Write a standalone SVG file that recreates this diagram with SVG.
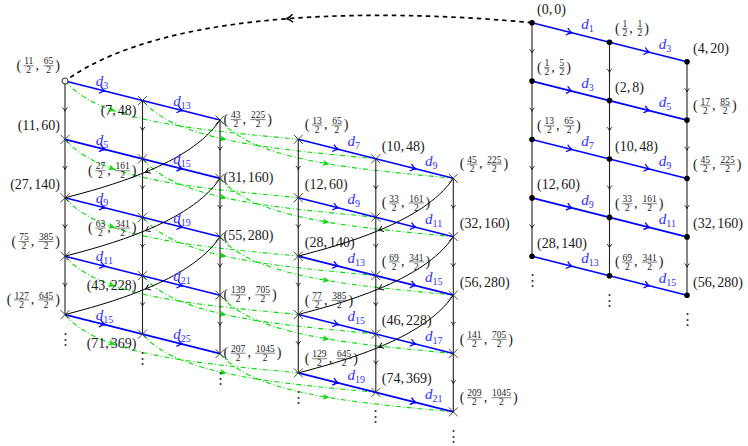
<svg xmlns="http://www.w3.org/2000/svg" width="748" height="446" viewBox="0 0 748 446">
<style>
.vl{fill:none;stroke:#222;stroke-width:1.1;marker-mid:url(#mv)}
.bl{fill:none;stroke:#0000ff;stroke-width:1.6;marker-mid:url(#mb)}
.gc{fill:none;stroke:#00e000;stroke-width:1.1;stroke-dasharray:5 2.5 1 2.5;marker-mid:url(#mg)}
.kc{fill:none;stroke:#000;stroke-width:1;marker-mid:url(#mk)}
.arc{fill:none;stroke:#000;stroke-width:1.7;stroke-dasharray:4.5 4;marker-mid:url(#ma)}
.lb{font-family:"Liberation Serif","DejaVu Serif",serif;font-size:14px;fill:#1a1a1a}
.e{text-anchor:end}
.fr{font-family:"Liberation Serif","DejaVu Serif",serif;font-size:9.5px;fill:#1a1a1a;text-anchor:middle}
.fb{stroke:#1a1a1a;stroke-width:0.55;fill:none}
.dl{font-family:"Liberation Serif","DejaVu Serif",serif;font-style:italic;font-size:15px;fill:#3030ff}
.sb{font-style:normal;font-size:10px}
.vd{font-family:"DejaVu Serif",serif;font-size:15px;fill:#333;text-anchor:middle}
</style>
<defs>
<marker id="mb" markerUnits="userSpaceOnUse" orient="auto" overflow="visible" markerWidth="10" markerHeight="10"><path d="M-4,-3.6Q-1,-0.6 1.5,0Q-1,0.6 -4,3.6" fill="none" stroke="#0000ff" stroke-width="1.3" stroke-dasharray="none"/></marker>
<marker id="mv" markerUnits="userSpaceOnUse" orient="auto" overflow="visible" markerWidth="10" markerHeight="10"><path d="M-2.6,-2.4Q-0.6,-0.4 1,0Q-0.6,0.4 -2.6,2.4" fill="none" stroke="#111" stroke-width="0.9" stroke-dasharray="none"/></marker>
<marker id="mk" markerUnits="userSpaceOnUse" orient="auto" overflow="visible" markerWidth="10" markerHeight="10"><path d="M-3.6,-3Q-0.9,-0.5 1.2,0Q-0.9,0.5 -3.6,3" fill="none" stroke="#000" stroke-width="1" stroke-dasharray="none"/></marker>
<marker id="mg" markerUnits="userSpaceOnUse" orient="auto" overflow="visible" markerWidth="10" markerHeight="10"><path d="M-4.5,-3L2,0L-4.5,3L-3,0Z" fill="#00e000" stroke="none"/></marker>
<marker id="ma" markerUnits="userSpaceOnUse" orient="auto" overflow="visible" markerWidth="10" markerHeight="10"><path d="M-4.5,-4Q-1.2,-0.8 2,0Q-1.2,0.8 -4.5,4" fill="none" stroke="#000" stroke-width="1.4" stroke-dasharray="none"/></marker>
<circle id="dot" r="2.8" fill="#000"/>
<path id="xm" d="M-4.5,-4.5L4.5,4.5M-4.5,4.5L4.5,-4.5" stroke="#333" stroke-width="0.9" fill="none"/>
<g id="vc"><path d="M0,0L0,29.2L0,58.4"/><path d="M0,58.4L0,87.6L0,116.8"/><path d="M0,116.8L0,146L0,175.2"/><path d="M0,175.2L0,204.4L0,233.6"/></g>
<g id="br"><path d="M0,0L38.75,9.75L77.5,19.5"/><path d="M77.5,19.5L116.25,29.25L155,39"/></g>
<path id="g0" d="M0,0C10.5,12.6 27.24,22.05 48.06,29.36C96.65,46.41 167.5,51.79 233.3,58.3"/>
<path id="g1" d="M0,0C15.75,18.9 45.53,30.71 82.1,38.84C126.78,48.77 181.6,53.19 233.3,58.3"/>
<path id="g2" d="M0,0C19.25,23.1 59.46,35.61 107.4,43.74C146.61,50.4 191,54.12 233.3,58.3"/>
<path id="kcv" d="M155,-77.8C140,-55.3 111.25,-38.48 81.25,-25.96C51.25,-13.45 20,-5.25 0,0"/>
</defs>
<rect width="748" height="446" fill="#fff"/>
<g id="connectors">
<path class="arc" d="M532,22.7C466,16.5 375.5,12 288.4,18.6C201.25,25.25 117.5,43 65,81"/>
<g id="conn-left" transform="translate(65,81)">
<g class="gc">
<use href="#g0"/><use href="#g0" y="58.4"/><use href="#g0" y="116.8"/><use href="#g0" y="175.2"/><use href="#g0" y="233.6"/>
<use href="#g1" x="77.5" y="19.5"/><use href="#g1" x="77.5" y="77.9"/><use href="#g1" x="77.5" y="136.3"/><use href="#g1" x="77.5" y="194.7"/><use href="#g1" x="77.5" y="253.1"/>
<use href="#g2" x="155" y="39"/><use href="#g2" x="155" y="97.4"/><use href="#g2" x="155" y="155.8"/><use href="#g2" x="155" y="214.2"/><use href="#g2" x="155" y="272.6"/>
</g>
<g class="vl"><use href="#vc"/><use href="#vc" x="77.5" y="19.5"/><use href="#vc" x="155" y="39"/></g>
<g class="bl"><use href="#br"/><use href="#br" y="58.4"/><use href="#br" y="116.8"/><use href="#br" y="175.2"/><use href="#br" y="233.6"/></g>
<g class="kc"><use href="#kcv" y="116.8"/><use href="#kcv" y="175.2"/><use href="#kcv" y="233.6"/></g>
<g class="dl">
<text x="30.75" y="5.25">d<tspan class="sb" dy="3">3</tspan></text><text x="108.25" y="24.75">d<tspan class="sb" dy="3">13</tspan></text>
<text x="30.75" y="63.65">d<tspan class="sb" dy="3">5</tspan></text><text x="108.25" y="83.15">d<tspan class="sb" dy="3">15</tspan></text>
<text x="30.75" y="122.05">d<tspan class="sb" dy="3">9</tspan></text><text x="108.25" y="141.55">d<tspan class="sb" dy="3">19</tspan></text>
<text x="30.75" y="180.45">d<tspan class="sb" dy="3">11</tspan></text><text x="108.25" y="199.95">d<tspan class="sb" dy="3">21</tspan></text>
<text x="30.75" y="238.85">d<tspan class="sb" dy="3">15</tspan></text><text x="108.25" y="258.35">d<tspan class="sb" dy="3">25</tspan></text>
</g>
</g>
<g id="conn-middle" transform="translate(298.3,139.3)">
<g class="vl"><use href="#vc"/><use href="#vc" x="77.5" y="19.5"/><use href="#vc" x="155" y="39"/></g>
<g class="bl"><use href="#br"/><use href="#br" y="58.4"/><use href="#br" y="116.8"/><use href="#br" y="175.2"/><use href="#br" y="233.6"/></g>
<g class="kc"><use href="#kcv" y="116.8"/><use href="#kcv" y="175.2"/><use href="#kcv" y="233.6"/></g>
<g class="dl">
<text x="49.25" y="6.75">d<tspan class="sb" dy="3">7</tspan></text><text x="126.75" y="26.25">d<tspan class="sb" dy="3">9</tspan></text>
<text x="49.25" y="65.15">d<tspan class="sb" dy="3">9</tspan></text><text x="126.75" y="84.65">d<tspan class="sb" dy="3">11</tspan></text>
<text x="49.25" y="123.55">d<tspan class="sb" dy="3">13</tspan></text><text x="126.75" y="143.05">d<tspan class="sb" dy="3">15</tspan></text>
<text x="49.25" y="181.95">d<tspan class="sb" dy="3">15</tspan></text><text x="126.75" y="201.45">d<tspan class="sb" dy="3">17</tspan></text>
<text x="49.25" y="240.35">d<tspan class="sb" dy="3">19</tspan></text><text x="126.75" y="259.85">d<tspan class="sb" dy="3">21</tspan></text>
</g>
</g>
<g id="conn-right" transform="translate(532,22.7)">
<g class="vl"><use href="#vc"/><use href="#vc" x="77.5" y="19.5"/><use href="#vc" x="155" y="39"/></g>
<g class="bl"><use href="#br"/><use href="#br" y="58.4"/><use href="#br" y="116.8"/><use href="#br" y="175.2"/><use href="#br" y="233.6"/></g>
<g class="dl">
<text x="49.25" y="6.75">d<tspan class="sb" dy="3">1</tspan></text><text x="126.75" y="26.25">d<tspan class="sb" dy="3">3</tspan></text>
<text x="49.25" y="65.15">d<tspan class="sb" dy="3">3</tspan></text><text x="126.75" y="84.65">d<tspan class="sb" dy="3">5</tspan></text>
<text x="49.25" y="123.55">d<tspan class="sb" dy="3">7</tspan></text><text x="126.75" y="143.05">d<tspan class="sb" dy="3">9</tspan></text>
<text x="49.25" y="181.95">d<tspan class="sb" dy="3">9</tspan></text><text x="126.75" y="201.45">d<tspan class="sb" dy="3">11</tspan></text>
<text x="49.25" y="240.35">d<tspan class="sb" dy="3">13</tspan></text><text x="126.75" y="259.85">d<tspan class="sb" dy="3">15</tspan></text>
</g>
</g>
</g>
<g id="vdots">
<g transform="translate(65,81)"><text class="vd" x="0" y="262.6">⋮</text><text class="vd" x="77.5" y="282.1">⋮</text><text class="vd" x="155" y="301.6">⋮</text></g>
<g transform="translate(298.3,139.3)"><text class="vd" x="0" y="262.6">⋮</text><text class="vd" x="77.5" y="282.1">⋮</text><text class="vd" x="155" y="301.6">⋮</text></g>
<g transform="translate(532,22.7)"><text class="vd" x="0" y="262.6">⋮</text><text class="vd" x="77.5" y="282.1">⋮</text><text class="vd" x="155" y="301.6">⋮</text></g>
</g>
<g id="nodes-left" transform="translate(65,81)">
<g id="L00"><circle r="3" fill="#fff" stroke="#000" stroke-width="0.8"/><text class="lb" y="-11"><tspan x="-48.6">(</tspan><tspan x="-29.5">,</tspan><tspan x="-9.7">)</tspan></text><text class="fr"><tspan x="-36.3" y="-16.6">11</tspan><tspan x="-36.3" y="-7.6">2</tspan><tspan x="-16.5" y="-16.6">65</tspan><tspan x="-16.5" y="-7.6">2</tspan></text><path class="fb" d="M-41.5,-15.2h10.4M-21.7,-15.2h10.4"/></g>
<g id="L01" transform="translate(0,58.4)"><use href="#xm"/><text class="lb e" x="-5" y="-9.5">(11,<tspan dx="2">60)</tspan></text></g>
<g id="L02" transform="translate(0,116.8)"><use href="#xm"/><text class="lb e" x="-5" y="-8.5">(27,<tspan dx="2">140)</tspan></text></g>
<g id="L03" transform="translate(0,175.2)"><use href="#xm"/><text class="lb" y="-10.5"><tspan x="-53.4">(</tspan><tspan x="-34.3">,</tspan><tspan x="-9.7">)</tspan></text><text class="fr"><tspan x="-41.1" y="-16.1">75</tspan><tspan x="-41.1" y="-7.1">2</tspan><tspan x="-18.9" y="-16.1">385</tspan><tspan x="-18.9" y="-7.1">2</tspan></text><path class="fb" d="M-46.3,-14.7h10.4M-26.5,-14.7h15.2"/></g>
<g id="L04" transform="translate(0,233.6)"><use href="#xm"/><text class="lb" y="-10.5"><tspan x="-58.2">(</tspan><tspan x="-34.3">,</tspan><tspan x="-9.7">)</tspan></text><text class="fr"><tspan x="-43.5" y="-16.1">127</tspan><tspan x="-43.5" y="-7.1">2</tspan><tspan x="-18.9" y="-16.1">645</tspan><tspan x="-18.9" y="-7.1">2</tspan></text><path class="fb" d="M-51.1,-14.7h15.2M-26.5,-14.7h15.2"/></g>
<g id="L10" transform="translate(77.5,19.5)"><use href="#xm"/><text class="lb e" x="-6" y="14.7">(7,<tspan dx="2">48)</tspan></text></g>
<g id="L11" transform="translate(77.5,77.9)"><use href="#xm"/><text class="lb" y="16"><tspan x="-54.4">(</tspan><tspan x="-35.3">,</tspan><tspan x="-10.7">)</tspan></text><text class="fr"><tspan x="-42.1" y="10.4">27</tspan><tspan x="-42.1" y="19.4">2</tspan><tspan x="-19.9" y="10.4">161</tspan><tspan x="-19.9" y="19.4">2</tspan></text><path class="fb" d="M-47.3,11.8h10.4M-27.5,11.8h15.2"/></g>
<g id="L12" transform="translate(77.5,136.3)"><use href="#xm"/><text class="lb" y="15"><tspan x="-54.4">(</tspan><tspan x="-35.3">,</tspan><tspan x="-10.7">)</tspan></text><text class="fr"><tspan x="-42.1" y="9.4">63</tspan><tspan x="-42.1" y="18.4">2</tspan><tspan x="-19.9" y="9.4">341</tspan><tspan x="-19.9" y="18.4">2</tspan></text><path class="fb" d="M-47.3,10.8h10.4M-27.5,10.8h15.2"/></g>
<g id="L13" transform="translate(77.5,194.7)"><use href="#xm"/><text class="lb e" x="-6" y="14.3">(43,<tspan dx="2">228)</tspan></text></g>
<g id="L14" transform="translate(77.5,253.1)"><use href="#xm"/><text class="lb e" x="-6" y="14.4">(71,<tspan dx="2">369)</tspan></text></g>
<g id="L20" transform="translate(155,39)"><use href="#xm"/><text class="lb" y="3.8"><tspan x="3.5">(</tspan><tspan x="22.6">,</tspan><tspan x="47.2">)</tspan></text><text class="fr"><tspan x="15.8" y="-1.8">43</tspan><tspan x="15.8" y="7.2">2</tspan><tspan x="38" y="-1.8">225</tspan><tspan x="38" y="7.2">2</tspan></text><path class="fb" d="M10.6,-0.4h10.4M30.4,-0.4h15.2"/></g>
<g id="L21" transform="translate(155,97.4)"><use href="#xm"/><text class="lb" x="3.5" y="3.5">(31,<tspan dx="2">160)</tspan></text></g>
<g id="L22" transform="translate(155,155.8)"><use href="#xm"/><text class="lb" x="3.5" y="3.5">(55,<tspan dx="2">280)</tspan></text></g>
<g id="L23" transform="translate(155,214.2)"><use href="#xm"/><text class="lb" y="3.8"><tspan x="3.5">(</tspan><tspan x="27.4">,</tspan><tspan x="52">)</tspan></text><text class="fr"><tspan x="18.2" y="-1.8">139</tspan><tspan x="18.2" y="7.2">2</tspan><tspan x="42.8" y="-1.8">705</tspan><tspan x="42.8" y="7.2">2</tspan></text><path class="fb" d="M10.6,-0.4h15.2M35.2,-0.4h15.2"/></g>
<g id="L24" transform="translate(155,272.6)"><use href="#xm"/><text class="lb" y="3.8"><tspan x="3.5">(</tspan><tspan x="27.4">,</tspan><tspan x="56.8">)</tspan></text><text class="fr"><tspan x="18.2" y="-1.8">207</tspan><tspan x="18.2" y="7.2">2</tspan><tspan x="45.2" y="-1.8">1045</tspan><tspan x="45.2" y="7.2">2</tspan></text><path class="fb" d="M10.6,-0.4h15.2M35.2,-0.4h20"/></g>
</g>
<g id="nodes-middle" transform="translate(298.3,139.3)">
<g id="M00"><use href="#xm"/><text class="lb" y="-10"><tspan x="6.5">(</tspan><tspan x="25.6">,</tspan><tspan x="45.4">)</tspan></text><text class="fr"><tspan x="18.8" y="-15.6">13</tspan><tspan x="18.8" y="-6.6">2</tspan><tspan x="38.6" y="-15.6">65</tspan><tspan x="38.6" y="-6.6">2</tspan></text><path class="fb" d="M13.6,-14.2h10.4M33.4,-14.2h10.4"/></g>
<g id="M01" transform="translate(0,58.4)"><use href="#xm"/><text class="lb" x="6.5" y="-8.5">(12,<tspan dx="2">60)</tspan></text></g>
<g id="M02" transform="translate(0,116.8)"><use href="#xm"/><text class="lb" x="6.5" y="-9">(28,<tspan dx="2">140)</tspan></text></g>
<g id="M03" transform="translate(0,175.2)"><use href="#xm"/><text class="lb" y="-10"><tspan x="6.5">(</tspan><tspan x="25.6">,</tspan><tspan x="50.2">)</tspan></text><text class="fr"><tspan x="18.8" y="-15.6">77</tspan><tspan x="18.8" y="-6.6">2</tspan><tspan x="41" y="-15.6">385</tspan><tspan x="41" y="-6.6">2</tspan></text><path class="fb" d="M13.6,-14.2h10.4M33.4,-14.2h15.2"/></g>
<g id="M04" transform="translate(0,233.6)"><use href="#xm"/><text class="lb" y="-10"><tspan x="6.5">(</tspan><tspan x="30.4">,</tspan><tspan x="55">)</tspan></text><text class="fr"><tspan x="21.2" y="-15.6">129</tspan><tspan x="21.2" y="-6.6">2</tspan><tspan x="45.8" y="-15.6">645</tspan><tspan x="45.8" y="-6.6">2</tspan></text><path class="fb" d="M13.6,-14.2h15.2M38.2,-14.2h15.2"/></g>
<g id="M10" transform="translate(77.5,19.5)"><use href="#xm"/><text class="lb" x="6" y="-8">(10,<tspan dx="2">48)</tspan></text></g>
<g id="M11" transform="translate(77.5,77.9)"><use href="#xm"/><text class="lb" y="-10"><tspan x="6">(</tspan><tspan x="25.1">,</tspan><tspan x="49.7">)</tspan></text><text class="fr"><tspan x="18.3" y="-15.6">33</tspan><tspan x="18.3" y="-6.6">2</tspan><tspan x="40.5" y="-15.6">161</tspan><tspan x="40.5" y="-6.6">2</tspan></text><path class="fb" d="M13.1,-14.2h10.4M32.9,-14.2h15.2"/></g>
<g id="M12" transform="translate(77.5,136.3)"><use href="#xm"/><text class="lb" y="-9.5"><tspan x="6">(</tspan><tspan x="25.1">,</tspan><tspan x="49.7">)</tspan></text><text class="fr"><tspan x="18.3" y="-15.1">69</tspan><tspan x="18.3" y="-6.1">2</tspan><tspan x="40.5" y="-15.1">341</tspan><tspan x="40.5" y="-6.1">2</tspan></text><path class="fb" d="M13.1,-13.7h10.4M32.9,-13.7h15.2"/></g>
<g id="M13" transform="translate(77.5,194.7)"><use href="#xm"/><text class="lb" x="6" y="-9">(46,<tspan dx="2">228)</tspan></text></g>
<g id="M14" transform="translate(77.5,253.1)"><use href="#xm"/><text class="lb" x="6" y="-9">(74,<tspan dx="2">369)</tspan></text></g>
<g id="M20" transform="translate(155,39)"><use href="#xm"/><text class="lb" y="-10"><tspan x="6.5">(</tspan><tspan x="25.6">,</tspan><tspan x="50.2">)</tspan></text><text class="fr"><tspan x="18.8" y="-15.6">45</tspan><tspan x="18.8" y="-6.6">2</tspan><tspan x="41" y="-15.6">225</tspan><tspan x="41" y="-6.6">2</tspan></text><path class="fb" d="M13.6,-14.2h10.4M33.4,-14.2h15.2"/></g>
<g id="M21" transform="translate(155,97.4)"><use href="#xm"/><text class="lb" x="6.5" y="-9">(32,<tspan dx="2">160)</tspan></text></g>
<g id="M22" transform="translate(155,155.8)"><use href="#xm"/><text class="lb" x="6.5" y="-8.5">(56,<tspan dx="2">280)</tspan></text></g>
<g id="M23" transform="translate(155,214.2)"><use href="#xm"/><text class="lb" y="-10"><tspan x="6.5">(</tspan><tspan x="30.4">,</tspan><tspan x="55">)</tspan></text><text class="fr"><tspan x="21.2" y="-15.6">141</tspan><tspan x="21.2" y="-6.6">2</tspan><tspan x="45.8" y="-15.6">705</tspan><tspan x="45.8" y="-6.6">2</tspan></text><path class="fb" d="M13.6,-14.2h15.2M38.2,-14.2h15.2"/></g>
<g id="M24" transform="translate(155,272.6)"><use href="#xm"/><text class="lb" y="-10"><tspan x="6.5">(</tspan><tspan x="30.4">,</tspan><tspan x="59.8">)</tspan></text><text class="fr"><tspan x="21.2" y="-15.6">209</tspan><tspan x="21.2" y="-6.6">2</tspan><tspan x="48.2" y="-15.6">1045</tspan><tspan x="48.2" y="-6.6">2</tspan></text><path class="fb" d="M13.6,-14.2h15.2M38.2,-14.2h20"/></g>
</g>
<g id="nodes-right" transform="translate(532,22.7)">
<g id="R00"><use href="#dot"/><text class="lb" x="5" y="-8.5">(0,<tspan dx="2">0)</tspan></text></g>
<g id="R01" transform="translate(0,58.4)"><use href="#dot"/><text class="lb" y="-9.5"><tspan x="5">(</tspan><tspan x="19.3">,</tspan><tspan x="34.3">)</tspan></text><text class="fr"><tspan x="14.9" y="-15.1">1</tspan><tspan x="14.9" y="-6.1">2</tspan><tspan x="29.9" y="-15.1">5</tspan><tspan x="29.9" y="-6.1">2</tspan></text><path class="fb" d="M12.1,-13.7h5.6M27.1,-13.7h5.6"/></g>
<g id="R02" transform="translate(0,116.8)"><use href="#dot"/><text class="lb" y="-9.5"><tspan x="5">(</tspan><tspan x="24.1">,</tspan><tspan x="43.9">)</tspan></text><text class="fr"><tspan x="17.3" y="-15.1">13</tspan><tspan x="17.3" y="-6.1">2</tspan><tspan x="37.1" y="-15.1">65</tspan><tspan x="37.1" y="-6.1">2</tspan></text><path class="fb" d="M12.1,-13.7h10.4M31.9,-13.7h10.4"/></g>
<g id="R03" transform="translate(0,175.2)"><use href="#dot"/><text class="lb" x="5" y="-8.5">(12,<tspan dx="2">60)</tspan></text></g>
<g id="R04" transform="translate(0,233.6)"><use href="#dot"/><text class="lb" x="5" y="-8.5">(28,<tspan dx="2">140)</tspan></text></g>
<g id="R10" transform="translate(77.5,19.5)"><use href="#dot"/><text class="lb" y="-9.5"><tspan x="5.5">(</tspan><tspan x="19.8">,</tspan><tspan x="34.8">)</tspan></text><text class="fr"><tspan x="15.4" y="-15.1">1</tspan><tspan x="15.4" y="-6.1">2</tspan><tspan x="30.4" y="-15.1">1</tspan><tspan x="30.4" y="-6.1">2</tspan></text><path class="fb" d="M12.6,-13.7h5.6M27.6,-13.7h5.6"/></g>
<g id="R11" transform="translate(77.5,77.9)"><use href="#dot"/><text class="lb" x="5.5" y="-8.5">(2,<tspan dx="2">8)</tspan></text></g>
<g id="R12" transform="translate(77.5,136.3)"><use href="#dot"/><text class="lb" x="5.5" y="-8.5">(10,<tspan dx="2">48)</tspan></text></g>
<g id="R13" transform="translate(77.5,194.7)"><use href="#dot"/><text class="lb" y="-9.5"><tspan x="5.5">(</tspan><tspan x="24.6">,</tspan><tspan x="49.2">)</tspan></text><text class="fr"><tspan x="17.8" y="-15.1">33</tspan><tspan x="17.8" y="-6.1">2</tspan><tspan x="40" y="-15.1">161</tspan><tspan x="40" y="-6.1">2</tspan></text><path class="fb" d="M12.6,-13.7h10.4M32.4,-13.7h15.2"/></g>
<g id="R14" transform="translate(77.5,253.1)"><use href="#dot"/><text class="lb" y="-9.5"><tspan x="5.5">(</tspan><tspan x="24.6">,</tspan><tspan x="49.2">)</tspan></text><text class="fr"><tspan x="17.8" y="-15.1">69</tspan><tspan x="17.8" y="-6.1">2</tspan><tspan x="40" y="-15.1">341</tspan><tspan x="40" y="-6.1">2</tspan></text><path class="fb" d="M12.6,-13.7h10.4M32.4,-13.7h15.2"/></g>
<g id="R20" transform="translate(155,39)"><use href="#dot"/><text class="lb" x="6" y="-8.5">(4,<tspan dx="2">20)</tspan></text></g>
<g id="R21" transform="translate(155,97.4)"><use href="#dot"/><text class="lb" y="-10"><tspan x="6">(</tspan><tspan x="25.1">,</tspan><tspan x="44.9">)</tspan></text><text class="fr"><tspan x="18.3" y="-15.6">17</tspan><tspan x="18.3" y="-6.6">2</tspan><tspan x="38.1" y="-15.6">85</tspan><tspan x="38.1" y="-6.6">2</tspan></text><path class="fb" d="M13.1,-14.2h10.4M32.9,-14.2h10.4"/></g>
<g id="R22" transform="translate(155,155.8)"><use href="#dot"/><text class="lb" y="-10"><tspan x="6">(</tspan><tspan x="25.1">,</tspan><tspan x="49.7">)</tspan></text><text class="fr"><tspan x="18.3" y="-15.6">45</tspan><tspan x="18.3" y="-6.6">2</tspan><tspan x="40.5" y="-15.6">225</tspan><tspan x="40.5" y="-6.6">2</tspan></text><path class="fb" d="M13.1,-14.2h10.4M32.9,-14.2h15.2"/></g>
<g id="R23" transform="translate(155,214.2)"><use href="#dot"/><text class="lb" x="6" y="-8.5">(32,<tspan dx="2">160)</tspan></text></g>
<g id="R24" transform="translate(155,272.6)"><use href="#dot"/><text class="lb" x="6" y="-8.5">(56,<tspan dx="2">280)</tspan></text></g>
</g>
</svg>
